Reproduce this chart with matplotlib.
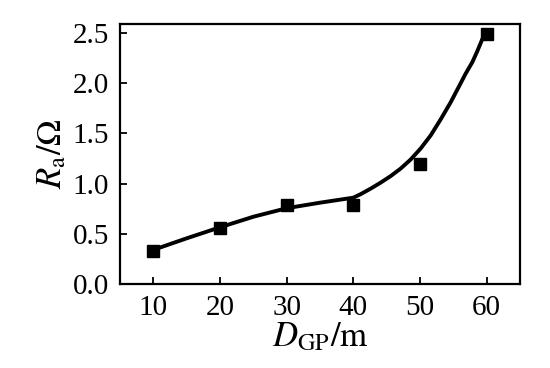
import matplotlib
matplotlib.use("Agg")
import matplotlib.pyplot as plt

# measured points
d_gp = [10, 20, 30, 40, 50, 60]
r_a = [0.33, 0.56, 0.79, 0.79, 1.20, 2.49]

# fitted curve
curve_x = [10, 15, 20, 25, 30, 35, 40, 41.1, 42.6, 44.1, 45.6, 47.1, 48.6,
           50.1, 51.6, 53.1, 54.6, 56.1, 56.8, 57.85, 58.6, 59.35, 60]
curve_y = [0.34, 0.455, 0.565, 0.67, 0.755, 0.81, 0.86, 0.895, 0.95, 1.01,
           1.075, 1.15, 1.24, 1.35, 1.48, 1.64, 1.81, 2.00, 2.09, 2.21,
           2.32, 2.44, 2.53]

xticks = [10, 20, 30, 40, 50, 60]
yticks = [0.0, 0.5, 1.0, 1.5, 2.0, 2.5]

plt.rcParams['font.family'] = ['Liberation Serif', 'DejaVu Serif']
plt.rcParams['mathtext.fontset'] = 'stix'

fig = plt.figure(figsize=(5.5, 3.68), dpi=100)
ax = fig.add_axes([120/550, 1-284/368, 400/550, 260/368])

ax.plot(curve_x, curve_y, color='black', lw=2.8, solid_capstyle='round',
        solid_joinstyle='round')
ax.plot(d_gp, r_a, linestyle='none', marker='s', color='black', markersize=8.5)

ax.set_xlim(5, 65)
ax.set_ylim(0, 2.59)
ax.set_xticks(xticks)
ax.set_yticks(yticks)
ax.set_yticklabels([f"{v:.1f}" for v in yticks])
for s in ax.spines.values():
    s.set_linewidth(1.6)
ax.tick_params(direction='in', length=5, width=1.3, labelsize=21, pad=8,
               top=False, right=False)
ax.set_ylabel(r"$R_{\mathrm{a}}/\Omega$", fontsize=25, labelpad=2)
ax.set_xlabel(r"$D_{\mathrm{GP}}/\mathrm{m}$", fontsize=25, labelpad=0)

fig.savefig("out.png", dpi=100)
